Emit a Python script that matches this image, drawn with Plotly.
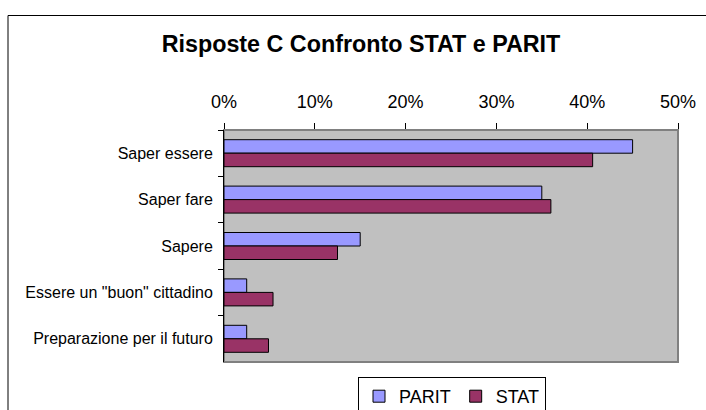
import plotly.graph_objects as go

categories = ["Saper essere", "Saper fare", "Sapere", "Essere un \"buon\" cittadino", "Preparazione per il futuro"]
parit = [0.45, 0.35, 0.15, 0.025, 0.025]
stat = [0.406, 0.36, 0.125, 0.054, 0.049]
x_ticks = [0, 0.1, 0.2, 0.3, 0.4, 0.5]

FONT = "Liberation Sans, Arial, sans-serif"

fig = go.Figure()
fig.add_trace(go.Bar(y=categories, x=parit, name="PARIT", orientation="h",
                     marker=dict(color="#9999FF", line=dict(color="black", width=1))))
fig.add_trace(go.Bar(y=categories, x=stat, name="STAT", orientation="h",
                     marker=dict(color="#993366", line=dict(color="black", width=1))))

L, R, T, B = 224, 28, 130, 48
W, H = 706, 410
pw, ph = W - L - R, H - T - B

def px(xp):
    return (xp - L) / pw

def py(yp):
    return (H - B - yp) / ph

fig.update_layout(
    width=W, height=H,
    margin=dict(l=L, r=R, t=T, b=B, pad=0, autoexpand=False),
    paper_bgcolor="white",
    plot_bgcolor="#C0C0C0",
    barmode="group",
    bargap=0.418,
    bargroupgap=0,
    font=dict(family=FONT, color="black"),
    title=dict(text="<b>Risposte C Confronto STAT e PARIT</b>",
               font=dict(size=23.3, family=FONT, color="black"),
               x=361 / W, xanchor="center", xref="container",
               y=1 - 43.5 / H, yanchor="middle", yref="container"),
    xaxis=dict(side="top", range=[0, 0.5], tickvals=x_ticks, tickformat=".0%",
               showgrid=False, zeroline=False, showline=False,
               ticks="outside", ticklen=6, tickcolor="black", tickwidth=1,
               tickfont=dict(size=18, family=FONT, color="black"),
               ticklabelstandoff=8, automargin=False),
    yaxis=dict(type="category", autorange="reversed", showgrid=False,
               showline=True, linecolor="black", linewidth=1,
               ticks="outside", ticklen=5, tickcolor="black", tickson="boundaries",
               tickfont=dict(size=16, family=FONT, color="black"),
               ticklabelstandoff=7, automargin=False),
    legend=dict(orientation="h", x=358 / W, xanchor="left", xref="container",
                y=1 - 377 / H, yanchor="top", yref="container",
                bordercolor="black", borderwidth=1, bgcolor="white",
                font=dict(size=18, family=FONT, color="black"),
                itemwidth=30, traceorder="normal"),
    showlegend=True,
    shapes=[
        dict(type="rect", xref="paper", yref="paper", x0=0, x1=1, y0=0, y1=1,
             line=dict(color="#808080", width=2), layer="below"),
        dict(type="line", xref="paper", yref="paper", x0=px(8), x1=px(712), y0=py(15.5), y1=py(15.5),
             line=dict(color="black", width=1)),
        dict(type="line", xref="paper", yref="paper", x0=px(8), x1=px(8), y0=py(15.5), y1=py(415),
             line=dict(color="black", width=1)),
    ],
)

fig.write_html("out.html", config={"displayModeBar": False},
               post_script="document.body.style.margin='0';")
